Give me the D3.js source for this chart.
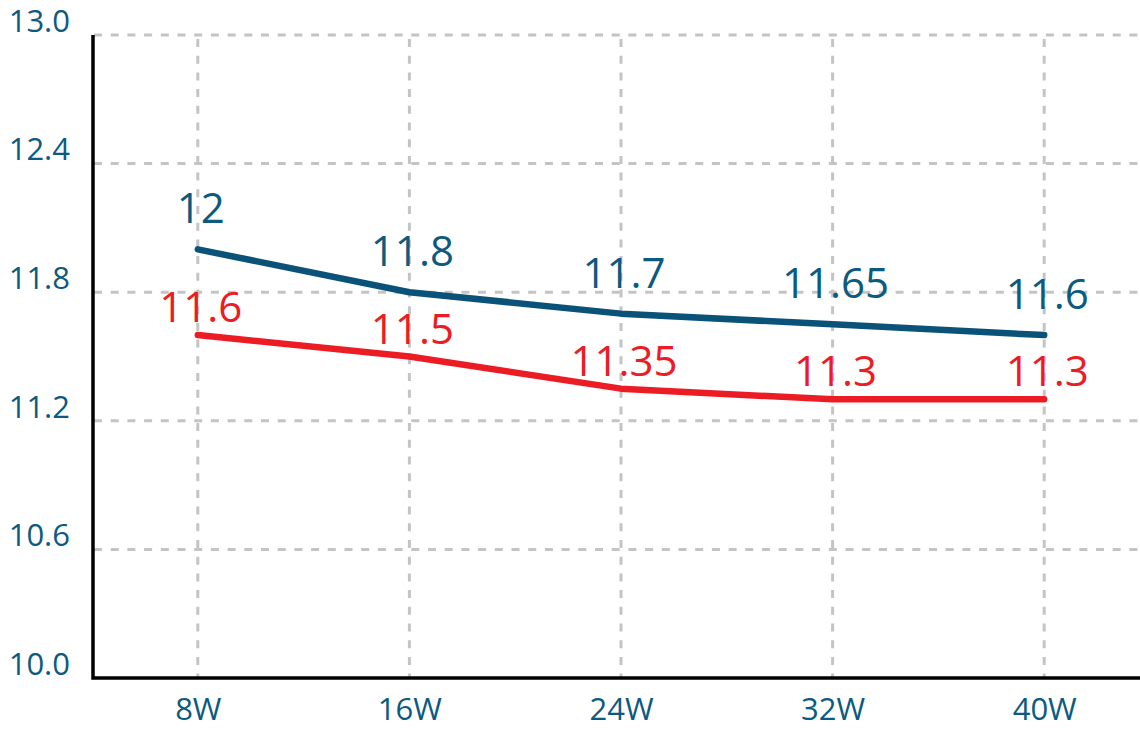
<!DOCTYPE html>
<html>
<head>
<meta charset="utf-8">
<script src="https://cdn.jsdelivr.net/npm/d3@7"></script>
<style>
  html, body { margin: 0; padding: 0; background: #fff; }
  svg text { font-family: "Open Sans", "Noto Sans", sans-serif; }
</style>
</head>
<body>
<div id="chart"></div>
<script>
// chart data
let weeks = ['8W', '16W', '24W', '32W', '40W'];
let blueValues = [12, 11.8, 11.7, 11.65, 11.6];
let redValues = [11.6, 11.5, 11.35, 11.3, 11.3];
let yTicks = [10.0, 10.6, 11.2, 11.8, 12.4, 13.0];

let width = 1140, height = 732;
let plot = { left: 92, right: 1150, top: 35, bottom: 678 };

let blue = '#0b5279', red = '#ec1c24', grid = '#c4c4c4', labelBlue = '#0d5a80';

let svg = d3.select('#chart')
  .append('svg')
  .attr('width', width)
  .attr('height', height);

let x = d3.scalePoint()
  .domain(weeks)
  .range([plot.left, plot.right])
  .padding(0.5);

let y = d3.scaleLinear()
  .domain([10, 13])
  .range([plot.bottom, plot.top]);

// horizontal grid lines
svg.append('g')
  .selectAll('line')
  .data(yTicks.filter(d => d > 10))
  .enter().append('line')
  .attr('x1', plot.left + 2)
  .attr('x2', width)
  .attr('y1', d => y(d))
  .attr('y2', d => y(d))
  .attr('stroke', grid)
  .attr('stroke-width', 3)
  .attr('stroke-dasharray', '8,8.7');

// vertical grid lines
svg.append('g')
  .selectAll('line')
  .data(weeks)
  .enter().append('line')
  .attr('x1', d => x(d))
  .attr('x2', d => x(d))
  .attr('y1', plot.top + 4)
  .attr('y2', plot.bottom)
  .attr('stroke', grid)
  .attr('stroke-width', 3)
  .attr('stroke-dasharray', '8,8.7');

// y axis labels
let yAxis = svg.append('g')
  .attr('transform', 'translate(' + plot.left + ',0)')
  .call(d3.axisLeft(y).tickValues(yTicks).tickFormat(d3.format('.1f')).tickSize(0).tickPadding(22));
yAxis.select('.domain').remove();
yAxis.selectAll('text')
  .attr('font-size', 31)
  .attr('fill', labelBlue)
  .attr('dy', '-0.12em');

// x axis labels
let xAxis = svg.append('g')
  .attr('transform', 'translate(0,' + plot.bottom + ')')
  .call(d3.axisBottom(x).tickSize(0).tickPadding(20));
xAxis.select('.domain').remove();
xAxis.selectAll('text')
  .attr('font-size', 31)
  .attr('fill', labelBlue);

// axis lines
svg.append('path')
  .attr('d', 'M' + (plot.left + 1) + ',' + plot.top + 'V' + plot.bottom + 'H' + width)
  .attr('fill', 'none')
  .attr('stroke', '#000')
  .attr('stroke-width', 3.5);

let line = d3.line()
  .x((d, i) => x(weeks[i]))
  .y(d => y(d));

let series = [
  { values: blueValues, color: blue, text: labelBlue, offset: 26 },
  { values: redValues, color: red, text: red, offset: 13 }
];

series.forEach(s => {
  svg.append('path')
    .datum(s.values)
    .attr('d', line)
    .attr('fill', 'none')
    .attr('stroke', s.color)
    .attr('stroke-width', 6.5)
    .attr('stroke-linejoin', 'round')
    .attr('stroke-linecap', 'round');

  svg.append('g')
    .selectAll('text')
    .data(s.values)
    .enter().append('text')
    .attr('x', (d, i) => x(weeks[i]) + 3)
    .attr('y', d => y(d) - s.offset)
    .attr('text-anchor', 'middle')
    .attr('font-size', 42)
    .attr('fill', s.text)
    .text(d => d);
});
</script>
</body>
</html>
